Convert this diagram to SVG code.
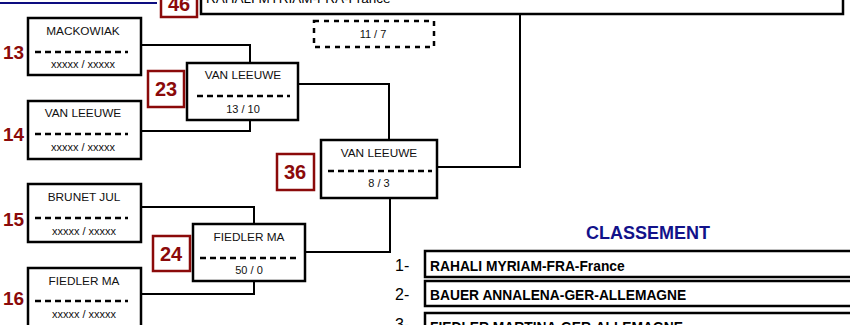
<svg xmlns="http://www.w3.org/2000/svg" width="850" height="325" viewBox="0 0 850 325">
<style>
.box{fill:#fff;stroke:#000;stroke-width:2.5}
.badge{fill:#fff;stroke:#8b0a0a;stroke-width:2.5}
.bn{font-family:"Liberation Sans",Arial,sans-serif;font-weight:bold;font-size:20px;fill:#8b0a0a;text-anchor:middle}
.side{font-family:"Liberation Sans",Arial,sans-serif;font-weight:bold;font-size:19px;fill:#8b0a0a;text-anchor:start}
.nm{font-family:"Liberation Sans",Arial,sans-serif;font-size:11.8px;fill:#111;text-anchor:middle}
.sc{font-family:"Liberation Sans",Arial,sans-serif;font-size:11px;fill:#111;text-anchor:middle}
.dash{stroke:#000;stroke-width:2.5;stroke-dasharray:6 4}
.con{fill:none;stroke:#000;stroke-width:2;stroke-linecap:square}
.row{fill:#fff;stroke:#000;stroke-width:2.5}
.rt{font-family:"Liberation Sans",Arial,sans-serif;font-weight:bold;font-size:13.8px;fill:#000}
.rn{font-family:"Liberation Sans",Arial,sans-serif;font-size:16px;fill:#000}
</style>

<line x1="0" y1="3" x2="157" y2="3" stroke="#0d0d80" stroke-width="2"/>

<g id="connectors">
<polyline class="con" points="141,45 250,45 250,63"/>
<polyline class="con" points="141,131 250,131 250,120"/>
<polyline class="con" points="141,207 254,207 254,224"/>
<polyline class="con" points="141,294 254,294 254,281"/>
<polyline class="con" points="298,84 389,84 389,140"/>
<polyline class="con" points="305,252 390,252 390,198"/>
<polyline class="con" points="437,167 520,167 520,14"/>
</g>

<g id="final">
<rect class="badge" x="161" y="-20" width="36" height="37"/>
<text class="bn" x="179" y="11">46</text>
<rect class="box" x="201" y="-20" width="642" height="34"/>
<text x="206" y="3" font-family="Liberation Sans,Arial,sans-serif" font-size="13.5" fill="#000">RAHALI MYRIAM-FRA-France</text>
<rect x="314" y="21" width="120" height="26" fill="none" stroke="#000" stroke-width="2.5" stroke-dasharray="5 5"/>
<text class="sc" x="373" y="38">11 / 7</text>
</g>

<g id="n13">
<text class="side" x="3" y="59">13</text>
<rect class="box" x="28" y="18" width="113" height="57"/>
<text class="nm" x="83" y="35">MACKOWIAK</text>
<line class="dash" x1="35" y1="52" x2="128" y2="52"/>
<text class="sc" x="83" y="68">xxxxx / xxxxx</text>
</g>

<g id="n14">
<text class="side" x="3" y="141">14</text>
<rect class="box" x="28" y="101" width="113" height="58"/>
<text class="nm" x="83" y="117">VAN LEEUWE</text>
<line class="dash" x1="35" y1="134" x2="128" y2="134"/>
<text class="sc" x="83" y="151">xxxxx / xxxxx</text>
</g>

<g id="n15">
<text class="side" x="3" y="226">15</text>
<rect class="box" x="28" y="184" width="113" height="58"/>
<text class="nm" x="84" y="201">BRUNET JUL</text>
<line class="dash" x1="35" y1="218" x2="128" y2="218"/>
<text class="sc" x="84" y="235">xxxxx / xxxxx</text>
</g>

<g id="n16">
<text class="side" x="3" y="305">16</text>
<rect class="box" x="28" y="268" width="113" height="70"/>
<text class="nm" x="84" y="285">FIEDLER MA</text>
<line class="dash" x1="35" y1="301" x2="128" y2="301"/>
<text class="sc" x="84" y="318">xxxxx / xxxxx</text>
</g>

<g id="n23">
<rect class="badge" x="148" y="71" width="36" height="36"/>
<text class="bn" x="166" y="96">23</text>
<rect class="box" x="187" y="63" width="111" height="57"/>
<text class="nm" x="243" y="79">VAN LEEUWE</text>
<line class="dash" x1="197" y1="96" x2="290" y2="96"/>
<text class="sc" x="243" y="113">13 / 10</text>
</g>

<g id="n24">
<rect class="badge" x="153" y="236" width="37" height="35"/>
<text class="bn" x="171" y="261">24</text>
<rect class="box" x="193" y="224" width="112" height="57"/>
<text class="nm" x="249" y="241">FIEDLER MA</text>
<line class="dash" x1="200" y1="258" x2="299" y2="258"/>
<text class="sc" x="249" y="274">50 / 0</text>
</g>

<g id="n36">
<rect class="badge" x="277" y="154" width="37" height="36"/>
<text class="bn" x="295" y="179">36</text>
<rect class="box" x="321" y="140" width="116" height="58"/>
<text class="nm" x="379" y="157">VAN LEEUWE</text>
<line class="dash" x1="328" y1="171" x2="432" y2="171"/>
<text class="sc" x="379" y="187">8 / 3</text>
</g>

<g id="classement">
<text x="648" y="239" font-family="Liberation Sans,Arial,sans-serif" font-weight="bold" font-size="18" fill="#12128a" text-anchor="middle">CLASSEMENT</text>
<text class="rn" x="395" y="271">1-</text>
<rect class="row" x="425" y="251" width="440" height="26"/>
<text class="rt" x="430" y="271">RAHALI MYRIAM-FRA-France</text>
<text class="rn" x="395" y="300">2-</text>
<rect class="row" x="425" y="281" width="440" height="25"/>
<text class="rt" x="430" y="300">BAUER ANNALENA-GER-ALLEMAGNE</text>
<text class="rn" x="395" y="330">3-</text>
<rect class="row" x="425" y="313" width="440" height="25"/>
<text class="rt" x="430" y="332">FIEDLER MARTINA-GER-ALLEMAGNE</text>
</g>
</svg>
